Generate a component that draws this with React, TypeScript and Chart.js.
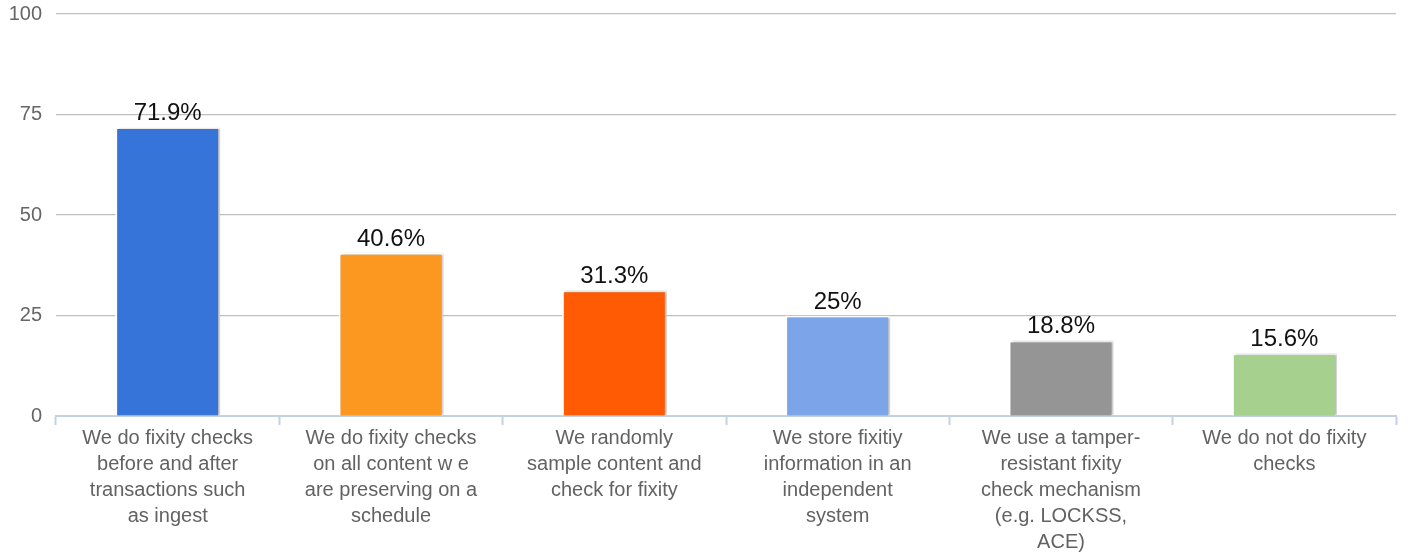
import React, { useEffect, useRef } from "react";
import { Chart, registerables } from "chart.js";

Chart.register(...registerables);

const categories: string[][] = [
  ["We do fixity checks", "before and after", "transactions such", "as ingest"],
  ["We do fixity checks", "on all content w e", "are preserving on a", "schedule"],
  ["We randomly", "sample content and", "check for fixity"],
  ["We store fixitiy", "information in an", "independent", "system"],
  ["We use a tamper-", "resistant fixity", "check mechanism", "(e.g. LOCKSS,", "ACE)"],
  ["We do not do fixity", "checks"],
];
const values: number[] = [71.9, 40.6, 31.3, 25, 18.8, 15.6];
const valueLabels: string[] = ["71.9%", "40.6%", "31.3%", "25%", "18.8%", "15.6%"];
const barColors: string[] = ["#3674d9", "#fc971f", "#ff5a04", "#7ca4e8", "#959595", "#a6d08e"];
const yTicks: number[] = [0, 25, 50, 75, 100];

const FONT = "'Liberation Sans', Arial, sans-serif";

const shadowPlugin = {
  id: "barShadow",
  beforeDatasetsDraw(chart: any) {
    const ctx = chart.ctx;
    ctx.save();
    ctx.shadowColor = "rgba(0,0,0,0.28)";
    ctx.shadowOffsetX = 2;
    ctx.shadowOffsetY = 0;
    ctx.shadowBlur = 2;
  },
  afterDatasetsDraw(chart: any) {
    chart.ctx.restore();
  },
};

const valueLabelPlugin = {
  id: "valueLabels",
  afterDatasetsDraw(chart: any) {
    const ctx = chart.ctx;
    const meta = chart.getDatasetMeta(0);
    ctx.save();
    ctx.font = `24px ${FONT}`;
    ctx.fillStyle = "#111111";
    ctx.textAlign = "center";
    ctx.textBaseline = "alphabetic";
    meta.data.forEach((bar: any, i: number) => {
      ctx.fillText(valueLabels[i], bar.x, bar.y - 7);
    });
    ctx.restore();
  },
};

export default function App() {
  const ref = useRef<HTMLCanvasElement | null>(null);
  useEffect(() => {
    document.body.style.margin = "0";
    if (!ref.current) return;
    const chart = new Chart(ref.current, {
      type: "bar",
      data: {
        labels: categories,
        datasets: [
          {
            data: values,
            backgroundColor: barColors,
            borderColor: "#ffffff",
            borderWidth: 2,
            categoryPercentage: 0.47,
            barPercentage: 1,
          },
        ],
      },
      options: {
        responsive: false,
        animation: false,
        layout: { padding: { top: 0, right: 12, left: 0, bottom: -1 } },
        plugins: {
          legend: { display: false },
          tooltip: { enabled: false },
        },
        scales: {
          x: {
            offset: true,
            border: { display: true, color: "#c3d1e0", width: 2 },
            grid: {
              display: true,
              drawOnChartArea: false,
              drawTicks: true,
              tickLength: 9,
              tickColor: "#c3d1e0",
              tickWidth: 2,
              offset: true,
            },
            ticks: {
              color: "#626262",
              font: { family: FONT, size: 20, lineHeight: 1.3 },
              padding: 0,
              maxRotation: 0,
              autoSkip: false,
            },
          },
          y: {
            min: 0,
            max: 100,
            afterBuildTicks(axis: any) {
              axis.ticks = yTicks.map((v) => ({ value: v }));
            },
            afterFit(axis: any) {
              axis.width = 56;
              axis.paddingTop = 14;
            },
            border: { display: false },
            grid: { color: "#bfbfbf", lineWidth: 1.2, drawTicks: false },
            ticks: {
              color: "#666666",
              font: { family: FONT, size: 20 },
              padding: 14,
            },
          },
        },
      },
      plugins: [shadowPlugin, valueLabelPlugin],
    });
    return () => chart.destroy();
  }, []);
  return (
    <div style={{ width: 1408, height: 554 }}>
      <canvas ref={ref} width={1408} height={554} />
    </div>
  );
}
